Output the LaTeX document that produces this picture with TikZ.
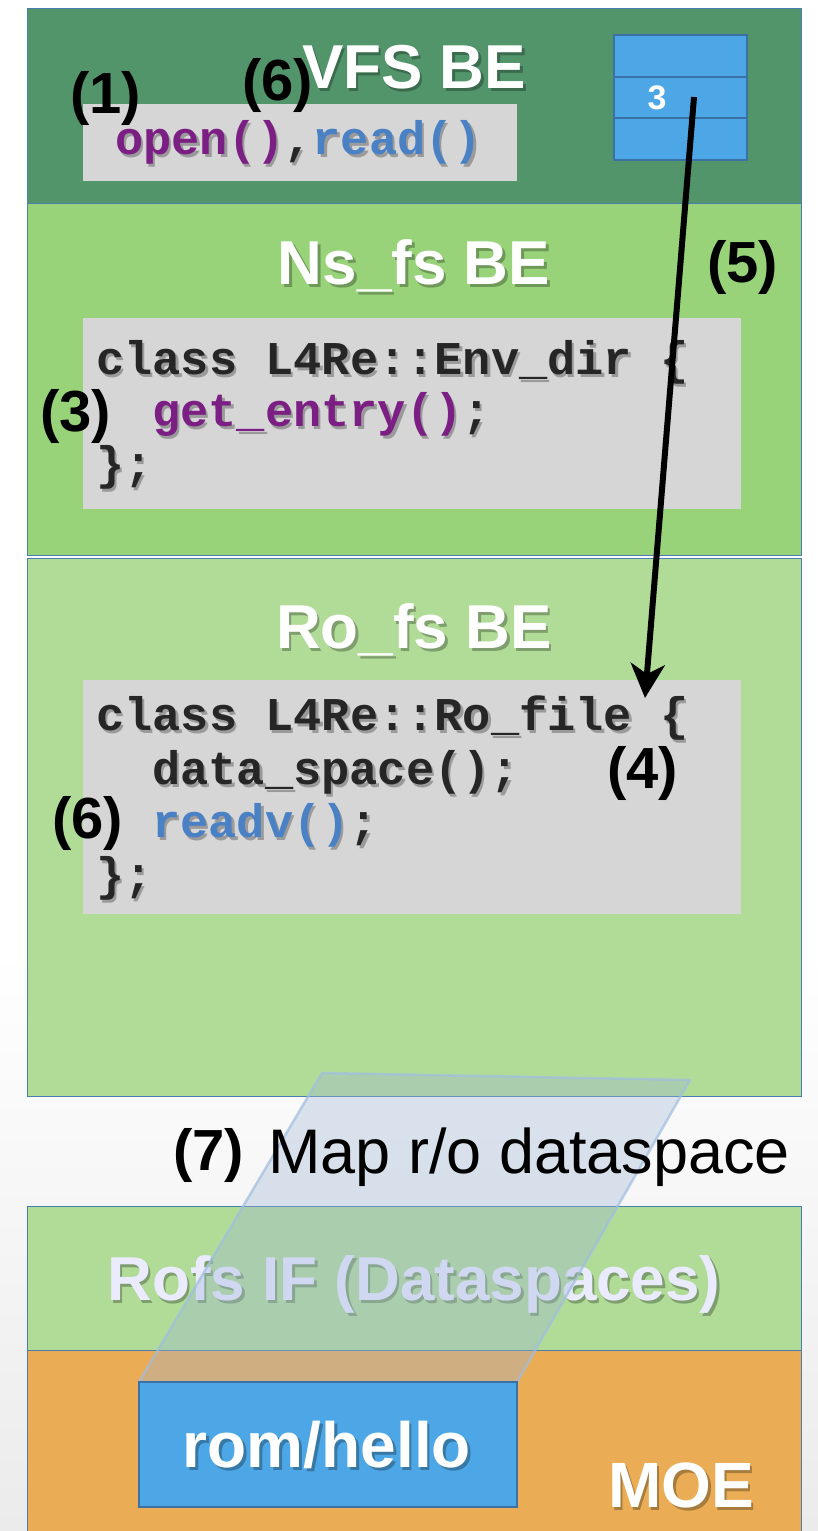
\documentclass[tikz,border=0pt]{standalone}
\usepackage{fontspec}
\setmainfont{Liberation Sans}
\newfontfamily\codefont{Liberation Mono}
\usetikzlibrary{arrows.meta}
\definecolor{vfsgreen}{HTML}{52956B}
\definecolor{nsgreen}{HTML}{98D37A}
\definecolor{rogreen}{HTML}{B1DC98}
\definecolor{moeorange}{HTML}{EAAD55}
\definecolor{codegray}{HTML}{D6D6D6}
\definecolor{cellblue}{HTML}{4DA7E6}
\definecolor{cellline}{HTML}{3A72A6}
\definecolor{layerline}{HTML}{4A7DB0}
\definecolor{codeblack}{HTML}{262626}
\definecolor{cpur}{HTML}{7B1F84}
\definecolor{cblu}{HTML}{4A80C4}
\definecolor{bggray}{HTML}{EBEBEB}
\definecolor{slabfill}{RGB}{158,181,215}
\definecolor{slabline}{RGB}{160,190,225}
\newcommand\shtxt[4]{%
  \node[#2,text opacity=.28,text=black,xshift=2.5pt,yshift=-3.5pt] (#1s) at (#3) {\colorlet{cpur}{black}\colorlet{cblu}{black}#4};
  \node[#2] (#1) at (#3) {#4};}
\tikzset{
  layer/.style={draw=layerline,line width=1pt},
  codebox/.style={fill=codegray},
  lbl/.style={inner sep=0pt,anchor=base west,font=\fontsize{58}{60}\selectfont\bfseries,text=black},
  ttl/.style={inner sep=0pt,anchor=base,font=\fontsize{62}{66}\selectfont\bfseries,text=white},
  code/.style={inner sep=0pt,anchor=base west,font=\codefont\fontsize{47}{53}\selectfont\bfseries,text=codeblack},
  flowarrow/.style={line width=6pt,-{Stealth[length=34pt,width=34pt,inset=10pt]}},
}
\begin{document}
\begin{tikzpicture}[x=1pt,y=-1pt]
\useasboundingbox (0,0) rectangle (818,1531);
\fill[white] (0,0) rectangle (818,1531);
\shade[top color=white,bottom color=bggray] (0,950) rectangle (818,1531);
% layers
\filldraw[layer,fill=vfsgreen] (27,8) rectangle (801,203);
\filldraw[layer,fill=nsgreen] (27,203) rectangle (801,555);
\filldraw[layer,fill=rogreen] (27,558) rectangle (801,1096);
\filldraw[layer,fill=rogreen] (27,1206) rectangle (801,1350);
\filldraw[layer,fill=moeorange] (27,1350) rectangle (801,1540);
% code boxes
\fill[codebox] (83,104) rectangle (517,181);
\fill[codebox] (83,318) rectangle (741,509);
\fill[codebox] (83,680) rectangle (741,914);
% fd table
\filldraw[fill=cellblue,draw=cellline,line width=1.5pt] (614,35) rectangle (747,160);
\draw[cellline,line width=1.5pt] (614,77) -- (747,77) (614,118) -- (747,118);
\node[inner sep=0pt,anchor=base,font=\fontsize{34}{36}\selectfont\bfseries,text=white] (fd3) at (657,109) {3};
% titles
\shtxt{tvfs}{ttl}{414,88}{VFS BE}
\shtxt{tns}{ttl}{414,284}{Ns\_fs BE}
\shtxt{tro}{ttl}{414,648}{Ro\_fs BE}
\shtxt{trofs}{ttl,text=white!92!blue}{414,1300}{Rofs IF (Dataspaces)}
% code
\shtxt{cvfs}{code}{115,154}{\textcolor{cpur}{open()},\textcolor{cblu}{read()}}
\shtxt{cns1}{code}{96,374}{class L4Re::Env\_dir \{}
\shtxt{cns2}{code}{152,426}{\textcolor{cpur}{get\_entry()};}
\shtxt{cns3}{code}{96,479}{\};}
\shtxt{cro1}{code}{96,730}{class L4Re::Ro\_file \{}
\shtxt{cro2}{code}{152,784}{data\_space();}
\shtxt{cro3}{code}{152,837}{\textcolor{cblu}{readv()};}
\shtxt{cro4}{code}{96,890}{\};}
% step labels
\node[lbl] (l1) at (70,113) {(1)};
\node[lbl] (l6a) at (242,100) {(6)};
\node[lbl] (l5) at (707,282) {(5)};
\node[lbl] (l3) at (40,431) {(3)};
\node[lbl] (l4) at (607,788) {(4)};
\node[lbl] (l6b) at (52,838) {(6)};
% mapping slab
\filldraw[fill=slabfill,fill opacity=.35,draw=slabline,draw opacity=.7,line width=2.5pt,line join=round]
  (322,1073) -- (690,1080) -- (517,1382) -- (139,1382) -- cycle;
\node[lbl] (l7) at (173,1170) {(7)};
\node[inner sep=0pt,anchor=base west,font=\fontsize{63}{66}\selectfont] (map) at (268,1173) {Map r/o dataspace};
% rom/hello
\filldraw[fill=cellblue,draw=cellline,line width=1.2pt] (139,1382) rectangle (517,1507);
\shtxt{rom}{ttl,font=\fontsize{64}{66}\selectfont\bfseries}{327,1467}{rom/hello}
\shtxt{moe}{ttl,anchor=base west,font=\fontsize{64}{66}\selectfont\bfseries}{608,1507}{MOE}
% arrow
\coordinate (arrs) at (694,97);
\coordinate (arre) at (645,698);
\draw[flowarrow] (arrs) -- (arre);
\end{tikzpicture}
\end{document}
